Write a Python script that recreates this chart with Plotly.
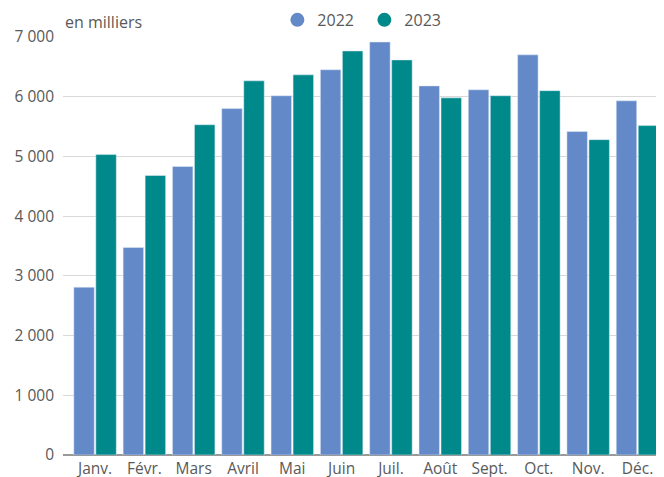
import plotly.graph_objects as go

months = ["Janv.", "Févr.", "Mars", "Avril", "Mai", "Juin", "Juil.", "Août", "Sept.", "Oct.", "Nov.", "Déc."]
v2022 = [2810, 3475, 4830, 5800, 6015, 6450, 6915, 6180, 6115, 6700, 5415, 5930]
v2023 = [5030, 4680, 5530, 6265, 6365, 6765, 6615, 5980, 6015, 6100, 5280, 5515]
y_ticks = [0, 1000, 2000, 3000, 4000, 5000, 6000, 7000]

C2022 = "#6389c8"
C2023 = "#00898a"
TXT = "#595959"
FONT = "Open Sans"

fig = go.Figure()
fig.add_trace(go.Bar(x=months, y=v2022, name="2022", marker_color=C2022, showlegend=False))
fig.add_trace(go.Bar(x=months, y=v2023, name="2023", marker_color=C2023, showlegend=False))
# legend entries with circular symbols
fig.add_trace(go.Scatter(x=[None], y=[None], mode="markers", name="2022",
                         marker=dict(symbol="circle", size=14, color=C2022)))
fig.add_trace(go.Scatter(x=[None], y=[None], mode="markers", name="2023",
                         marker=dict(symbol="circle", size=14, color=C2023)))

fig.update_layout(
    width=664, height=477,
    margin=dict(l=55, r=0, t=28, b=30, pad=0),
    paper_bgcolor="white", plot_bgcolor="white",
    font=dict(family=FONT, size=15, color=TXT),
    separators=", ",
    barmode="group", bargap=0.107, bargroupgap=0.07,
    showlegend=True,
    legend=dict(orientation="h", xref="paper", x=0.352, xanchor="left",
                yref="container", y=0.975, yanchor="middle",
                font=dict(size=16, color=TXT), itemwidth=30, entrywidth=42,
                bgcolor="rgba(0,0,0,0)"),
    xaxis=dict(range=[-0.65, 11.7], showgrid=False, showline=False, ticks="",
               ticklabelstandoff=2, automargin=False,
               tickfont=dict(size=15.5, color=TXT), fixedrange=True),
    yaxis=dict(range=[0, 7000], tickvals=y_ticks, tickformat=",d", showgrid=True,
               gridcolor="#d9d9d9", gridwidth=1, zeroline=True, zerolinecolor="#999999",
               zerolinewidth=2, showline=False, ticks="", ticklabelstandoff=8,
               automargin=False, tickfont=dict(size=15.5, color=TXT)),
    annotations=[dict(text="en milliers", xref="paper", yref="paper", x=0, y=1.036,
                      xanchor="left", yanchor="middle", showarrow=False,
                      font=dict(size=16, color=TXT))],
)

fig.write_html("out.html")
